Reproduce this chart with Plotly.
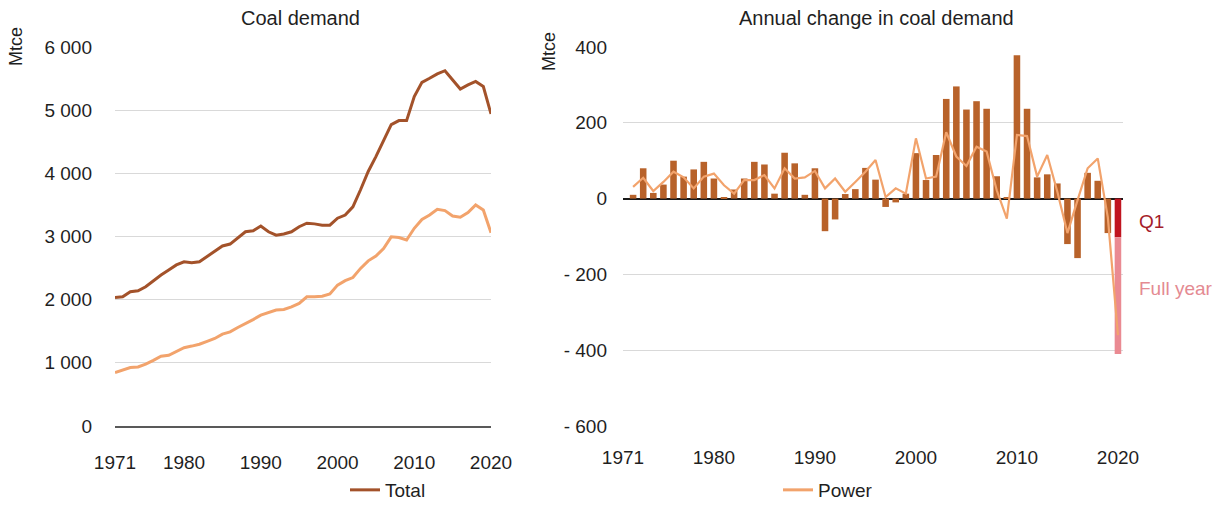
import plotly.graph_objects as go

# ---------------- data ----------------
years = list(range(1971, 2021))
total_demand = [2035, 2045, 2125, 2140, 2205, 2300, 2390, 2470, 2550, 2600,
                2585, 2600, 2680, 2760, 2850, 2880, 2980, 3075, 3090, 3165,
                3075, 3020, 3040, 3075, 3155, 3210, 3200, 3180, 3180, 3290,
                3340, 3470, 3740, 4030, 4265, 4530, 4770, 4835, 4835, 5215,
                5440, 5505, 5575, 5625, 5480, 5335, 5400, 5455, 5375, 4940]
power_demand = [845, 880, 925, 935, 980, 1040, 1105, 1120, 1175, 1240,
                1265, 1295, 1340, 1385, 1455, 1490, 1560, 1620, 1685, 1755,
                1790, 1835, 1845, 1885, 1940, 2045, 2045, 2055, 2090, 2230,
                2300, 2350, 2495, 2615, 2690, 2810, 2995, 2985, 2945, 3130,
                3270, 3340, 3430, 3410, 3325, 3305, 3380, 3500, 3420, 3060]

change_years = list(range(1972, 2020))
total_change = [10, 80, 15, 37, 100, 58, 77, 97, 53, 2,
                24, 53, 97, 90, 13, 121, 93, 10, 80, -86,
                -55, 12, 25, 81, 50, -22, -10, 13, 120, 49,
                115, 263, 296, 235, 257, 237, 59, 2, 378, 237,
                56, 64, 40, -120, -157, 68, 47, -91]
power_change_years = list(range(1972, 2021))
power_change = [31, 55, 20, 44, 71, 56, 27, 58, 66, 35,
                13, 49, 49, 62, 27, 80, 53, 56, 73, 27,
                53, 18, 44, 71, 102, 4, 27, 13, 159, 53,
                58, 175, 111, 86, 137, 124, 22, -53, 168, 165,
                58, 115, 18, -91, -4, 80, 106, -50, -360]
year_2020 = [2020]
q1_2020 = [-102]
full_year_2020 = [-410]
full_rest_2020 = [f - q for f, q in zip(full_year_2020, q1_2020)]

x_tickvals = [1971, 1980, 1990, 2000, 2010, 2020]
x_ticktext = ["1971", "1980", "1990", "2000", "2010", "2020"]
y1_tickvals = [0, 1000, 2000, 3000, 4000, 5000, 6000]
y1_ticktext = ["0", "1 000", "2 000", "3 000", "4 000", "5 000", "6 000"]
y2_tickvals = [-600, -400, -200, 0, 200, 400]
y2_ticktext = ["- 600", "- 400", "- 200", "0", "200", "400"]

# ---------------- style ----------------
C_TOTAL = "#A3522A"
C_POWER = "#F2A36C"
C_BAR = "#B8622A"
C_Q1 = "#C0141F"
C_FULL = "#EA8A92"
TXT = "#1f1f1f"
GRID = "#D9D9D9"
FONT = "Liberation Sans, Arial, sans-serif"
W, H = 1219, 506

fig = go.Figure()

fig.add_trace(go.Scatter(x=years, y=total_demand, mode="lines", name="Total",
                         line=dict(color=C_TOTAL, width=3), xaxis="x", yaxis="y",
                         legend="legend"))
fig.add_trace(go.Scatter(x=years, y=power_demand, mode="lines", name="Power",
                         line=dict(color=C_POWER, width=3), xaxis="x", yaxis="y",
                         legend="legend2"))

fig.add_trace(go.Bar(x=change_years, y=total_change, marker=dict(color=C_BAR, line=dict(width=0)),
                     width=0.65, xaxis="x2", yaxis="y2", showlegend=False))
fig.add_trace(go.Bar(x=year_2020, y=q1_2020, marker=dict(color=C_Q1, line=dict(width=0)),
                     width=0.65, xaxis="x2", yaxis="y2", showlegend=False))
fig.add_trace(go.Bar(x=year_2020, y=full_rest_2020, marker=dict(color=C_FULL, line=dict(width=0)),
                     width=0.65, xaxis="x2", yaxis="y2", showlegend=False))
fig.add_trace(go.Scatter(x=power_change_years, y=power_change, mode="lines",
                         line=dict(color=C_POWER, width=2.2), xaxis="x2", yaxis="y2",
                         showlegend=False))

ydom = [1 - 426 / H, 1 - 47 / H]
tickfont = dict(family=FONT, size=19, color=TXT)


def ann(text, x, y, size, color=TXT, xanchor="center", yref="paper", angle=0):
    return dict(text=text, x=x, y=y, xref="paper", yref=yref, xanchor=xanchor,
                yanchor="middle", textangle=angle, showarrow=False,
                font=dict(family=FONT, size=size, color=color))


fig.update_layout(
    width=W, height=H,
    margin=dict(l=0, r=0, t=0, b=0, autoexpand=False),
    paper_bgcolor="white", plot_bgcolor="white",
    barmode="relative",
    font=dict(family=FONT, color=TXT),
    xaxis=dict(domain=[115 / W, 491 / W], range=[1971, 2020], tickvals=x_tickvals,
               ticktext=x_ticktext, showgrid=False, zeroline=False, showline=True,
               linecolor="#595959", linewidth=2, ticks="", tickfont=tickfont,
               ticklabelstandoff=18, anchor="y", automargin=False),
    yaxis=dict(domain=ydom, range=[0, 6000], tickvals=y1_tickvals, ticktext=y1_ticktext,
               showgrid=True, gridcolor=GRID, gridwidth=1, zeroline=False, showline=False,
               ticks="", tickfont=tickfont, ticklabelstandoff=22, anchor="x",
               automargin=False),
    xaxis2=dict(domain=[623 / W, 1123 / W], range=[1971, 2020.5], tickvals=x_tickvals,
                ticktext=x_ticktext, showgrid=False, zeroline=False, showline=False,
                ticks="", tickfont=tickfont, ticklabelstandoff=18, anchor="y2",
                automargin=False),
    yaxis2=dict(domain=ydom, range=[-600, 400], tickvals=y2_tickvals, ticktext=y2_ticktext,
                showgrid=True, gridcolor=GRID, gridwidth=1, zeroline=True,
                zerolinecolor="#1a1a1a", zerolinewidth=2, showline=False, ticks="",
                tickfont=tickfont, ticklabelstandoff=15, anchor="x2", automargin=False),
    legend=dict(x=345 / W, y=1 - 490 / H, xanchor="left", yanchor="middle",
                orientation="h", font=dict(family=FONT, size=19, color=TXT),
                bgcolor="rgba(0,0,0,0)"),
    legend2=dict(x=778 / W, y=1 - 490 / H, xanchor="left", yanchor="middle",
                 orientation="h", font=dict(family=FONT, size=19, color=TXT),
                 bgcolor="rgba(0,0,0,0)"),
    annotations=[
        ann("Coal demand", 300 / W, 1 - 18 / H, 20),
        ann("Annual change in coal demand", 876 / W, 1 - 18 / H, 20),
        ann("Mtce", 16 / W, 1 - 47 / H, 18, angle=-90),
        ann("Mtce", 549 / W, 1 - 52 / H, 18, angle=-90),
        ann("Q1", 1137 / W, -61, 19, color="#A51C2A", xanchor="left", yref="y2"),
        ann("Full year", 1137 / W, -236, 19, color="#E48A92", xanchor="left", yref="y2"),
    ],
)

fig.write_html("out.html", config={"displayModeBar": False},
               post_script="document.body.style.margin='0px';")
